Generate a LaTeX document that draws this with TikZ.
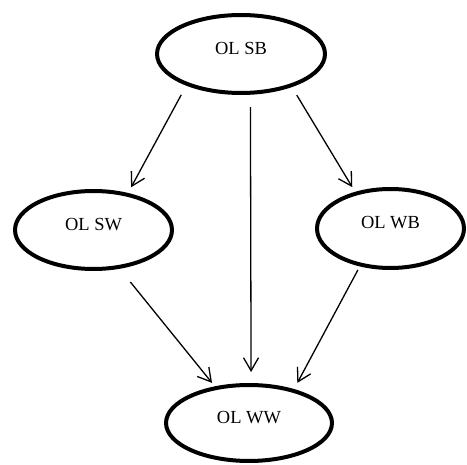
\documentclass[tikz,border=0pt]{standalone}
\usepackage{fontspec}
\setmainfont{Liberation Serif}
\usetikzlibrary{shapes.geometric,arrows.meta}

\begin{document}
\begin{tikzpicture}[x=0.02cm,y=-0.02cm,
	olnode/.style={draw,ellipse,line width=0.08cm,inner sep=0pt,text depth=2.4mm,font=\fontsize{10.5}{12}\selectfont},
	olarrow/.style={line width=0.026cm,-{Straight Barb[length=0.26cm,width=0.3cm]}}]
		\useasboundingbox (0,0) rectangle (467,465);
		\node[olnode,minimum width=3.36cm,minimum height=1.56cm] (sb) at (241,54) {OL SB};
		\node[olnode,minimum width=3.14cm,minimum height=1.56cm] (sw) at (93.5,230) {OL SW};
		\node[olnode,minimum width=2.94cm,minimum height=1.58cm] (wb) at (390.5,228.5) {OL WB};
		\node[olnode,minimum width=3.32cm,minimum height=1.52cm] (ww) at (249,423) {OL WW};
		\draw[olarrow,shorten <=0.21cm,shorten >=0.13cm] (sb.210.6) -- (sw.47.3);
		\draw[olarrow,shorten <=0.25cm,shorten >=0.22cm] (sb.283.8) -- (ww.87.1);
		\draw[olarrow,shorten <=0.19cm,shorten >=0.11cm] (sb.327.9) -- (wb.134.2);
		\draw[olarrow,shorten <=0.34cm,shorten >=0.09cm] (sw.304.9) -- (ww.133.95);
		\draw[olarrow,shorten <=0.08cm,shorten >=0.14cm] (wb.231.1) -- (ww.37.2);
\end{tikzpicture}
\end{document}
